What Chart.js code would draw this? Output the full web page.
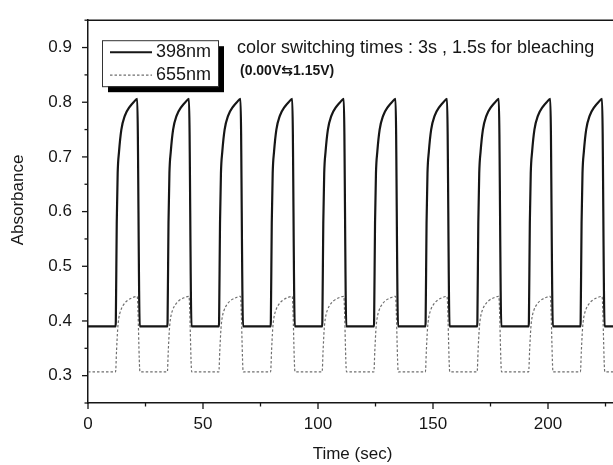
<!DOCTYPE html>
<html>
<head>
<meta charset="utf-8">
<script src="https://cdn.jsdelivr.net/npm/chart.js@4.4.1/dist/chart.umd.min.js"></script>
<style>
  html, body { margin: 0; padding: 0; background: #fff; overflow: hidden; }
  canvas { display: block; }
</style>
</head>
<body>
<canvas id="abs-chart" width="625" height="465"></canvas>
<script>
// 398nm trace, one row per switching cycle
const t398 = [
  0,
  12.0, 12.1, 12.5, 12.9, 13.5, 14.5, 16.0, 18.2, 19.8, 21.4, 22.5,
  34.5, 34.6, 35.0, 35.4, 36.0, 37.0, 38.5, 40.7, 42.3, 43.9, 45.0,
  56.9, 57.0, 57.4, 57.8, 58.4, 59.4, 60.9, 63.1, 64.7, 66.3, 67.4,
  79.4, 79.5, 79.9, 80.3, 80.9, 81.9, 83.4, 85.6, 87.2, 88.8, 89.9,
  101.8, 101.9, 102.3, 102.7, 103.3, 104.3, 105.8, 108.0, 109.6, 111.2, 112.3,
  124.3, 124.4, 124.8, 125.2, 125.8, 126.8, 128.3, 130.5, 132.1, 133.7, 134.8,
  146.7, 146.8, 147.2, 147.6, 148.2, 149.2, 150.7, 152.9, 154.5, 156.1, 157.2,
  169.2, 169.3, 169.7, 170.1, 170.7, 171.7, 173.2, 175.4, 177.0, 178.6, 179.7,
  191.6, 191.7, 192.1, 192.5, 193.1, 194.1, 195.6, 197.8, 199.4, 201.0, 202.1,
  214.1, 214.2, 214.6, 215.0, 215.6, 216.6, 218.1, 220.3, 221.9, 223.5, 224.6,
  232
];
const a398 = [
  0.39,
  0.39, 0.40, 0.58, 0.67, 0.71, 0.75, 0.775, 0.792, 0.800, 0.806, 0.39,
  0.39, 0.40, 0.58, 0.67, 0.71, 0.75, 0.775, 0.792, 0.800, 0.806, 0.39,
  0.39, 0.40, 0.58, 0.67, 0.71, 0.75, 0.775, 0.792, 0.800, 0.806, 0.39,
  0.39, 0.40, 0.58, 0.67, 0.71, 0.75, 0.775, 0.792, 0.800, 0.806, 0.39,
  0.39, 0.40, 0.58, 0.67, 0.71, 0.75, 0.775, 0.792, 0.800, 0.806, 0.39,
  0.39, 0.40, 0.58, 0.67, 0.71, 0.75, 0.775, 0.792, 0.800, 0.806, 0.39,
  0.39, 0.40, 0.58, 0.67, 0.71, 0.75, 0.775, 0.792, 0.800, 0.806, 0.39,
  0.39, 0.40, 0.58, 0.67, 0.71, 0.75, 0.775, 0.792, 0.800, 0.806, 0.39,
  0.39, 0.40, 0.58, 0.67, 0.71, 0.75, 0.775, 0.792, 0.800, 0.806, 0.39,
  0.39, 0.40, 0.58, 0.67, 0.71, 0.75, 0.775, 0.792, 0.800, 0.806, 0.39,
  0.39
];

// 655nm trace
const t655 = [
  0,
  12.0, 12.4, 12.9, 13.4, 14.3, 15.5, 17.0, 19.0, 21.4, 22.6,
  34.5, 34.9, 35.4, 35.9, 36.8, 38.0, 39.5, 41.5, 43.9, 45.1,
  56.9, 57.3, 57.8, 58.3, 59.2, 60.4, 61.9, 63.9, 66.3, 67.5,
  79.4, 79.8, 80.3, 80.8, 81.7, 82.9, 84.4, 86.4, 88.8, 90.0,
  101.8, 102.2, 102.7, 103.2, 104.1, 105.3, 106.8, 108.8, 111.2, 112.4,
  124.3, 124.7, 125.2, 125.7, 126.6, 127.8, 129.3, 131.3, 133.7, 134.9,
  146.7, 147.1, 147.6, 148.1, 149.0, 150.2, 151.7, 153.7, 156.1, 157.3,
  169.2, 169.6, 170.1, 170.6, 171.5, 172.7, 174.2, 176.2, 178.6, 179.8,
  191.6, 192.0, 192.5, 193.0, 193.9, 195.1, 196.6, 198.6, 201.0, 202.2,
  214.1, 214.5, 215.0, 215.5, 216.4, 217.6, 219.1, 221.1, 223.5, 224.7,
  232
];
const a655 = [
  0.307,
  0.307, 0.345, 0.385, 0.405, 0.420, 0.430, 0.437, 0.442, 0.445, 0.307,
  0.307, 0.345, 0.385, 0.405, 0.420, 0.430, 0.437, 0.442, 0.445, 0.307,
  0.307, 0.345, 0.385, 0.405, 0.420, 0.430, 0.437, 0.442, 0.445, 0.307,
  0.307, 0.345, 0.385, 0.405, 0.420, 0.430, 0.437, 0.442, 0.445, 0.307,
  0.307, 0.345, 0.385, 0.405, 0.420, 0.430, 0.437, 0.442, 0.445, 0.307,
  0.307, 0.345, 0.385, 0.405, 0.420, 0.430, 0.437, 0.442, 0.445, 0.307,
  0.307, 0.345, 0.385, 0.405, 0.420, 0.430, 0.437, 0.442, 0.445, 0.307,
  0.307, 0.345, 0.385, 0.405, 0.420, 0.430, 0.437, 0.442, 0.445, 0.307,
  0.307, 0.345, 0.385, 0.405, 0.420, 0.430, 0.437, 0.442, 0.445, 0.307,
  0.307, 0.345, 0.385, 0.405, 0.420, 0.430, 0.437, 0.442, 0.445, 0.307,
  0.307
];

// axis ticks (majors get a label)
const xTicks = [0, 25, 50, 75, 100, 125, 150, 175, 200, 225];
const xLabels = ['0', '', '50', '', '100', '', '150', '', '200', ''];
const yTicks = [0.25, 0.3, 0.35, 0.4, 0.45, 0.5, 0.55, 0.6, 0.65, 0.7, 0.75, 0.8, 0.85, 0.9, 0.95];
const yLabels = ['', '0.3', '', '0.4', '', '0.5', '', '0.6', '', '0.7', '', '0.8', '', '0.9', ''];

const seriesNames = ['398nm', '655nm'];
const yTitle = 'Absorbance';
const noteText = 'color switching times : 3s , 1.5s for bleaching';
const voltText = '(0.00V\u21C61.15V)';

const FONT = '"Liberation Sans", Arial, "DejaVu Sans", sans-serif';
const INK = '#161616';
const GREY = '#6f6f6f';

// frame, tick marks, legend box, y title and the notes
const decor = {
  id: 'decor',
  afterDraw(chart) {
    const ctx = chart.ctx;
    const area = chart.chartArea;
    const xs = chart.scales.x, ys = chart.scales.y;
    ctx.save();

    // top + right frame
    ctx.strokeStyle = INK;
    ctx.lineWidth = 1.5;
    ctx.beginPath();
    ctx.moveTo(area.left, area.top);
    ctx.lineTo(area.right, area.top);
    ctx.lineTo(area.right, area.bottom);
    ctx.stroke();

    // tick marks, outward
    ctx.lineWidth = 1.3;
    xTicks.forEach((v, i) => {
      const px = xs.getPixelForValue(v);
      const len = xLabels[i] ? 6 : 3.5;
      ctx.beginPath();
      ctx.moveTo(px, area.bottom);
      ctx.lineTo(px, area.bottom + len);
      ctx.stroke();
    });
    yTicks.forEach((v, i) => {
      const py = ys.getPixelForValue(v);
      const len = yLabels[i] ? 6 : 3.5;
      ctx.beginPath();
      ctx.moveTo(area.left - len, py);
      ctx.lineTo(area.left, py);
      ctx.stroke();
    });

    // y title
    ctx.fillStyle = INK;
    ctx.font = '17px ' + FONT;
    ctx.textAlign = 'center';
    ctx.textBaseline = 'middle';
    ctx.translate(18, 200);
    ctx.rotate(-Math.PI / 2);
    ctx.fillText(yTitle, 0, 0);
    ctx.setTransform(1, 0, 0, 1, 0, 0);

    // legend with drop shadow
    const bx = area.left + 14, by = area.top + 20, bw = 116, bh = 46;
    ctx.fillStyle = '#000';
    ctx.fillRect(bx + 6, by + 6, bw, bh);
    ctx.fillStyle = '#fff';
    ctx.fillRect(bx, by, bw, bh);
    ctx.strokeStyle = '#333';
    ctx.lineWidth = 1;
    ctx.strokeRect(bx + 0.5, by + 0.5, bw, bh);

    ctx.strokeStyle = INK;
    ctx.lineWidth = 2;
    ctx.beginPath();
    ctx.moveTo(bx + 8, by + 12);
    ctx.lineTo(bx + 50, by + 12);
    ctx.stroke();

    ctx.strokeStyle = GREY;
    ctx.lineWidth = 1.2;
    ctx.setLineDash([2.5, 2]);
    ctx.beginPath();
    ctx.moveTo(bx + 8, by + 35);
    ctx.lineTo(bx + 50, by + 35);
    ctx.stroke();
    ctx.setLineDash([]);

    ctx.fillStyle = INK;
    ctx.font = '18px ' + FONT;
    ctx.textAlign = 'left';
    ctx.textBaseline = 'middle';
    ctx.fillText(seriesNames[0], bx + 54, by + 12);
    ctx.fillText(seriesNames[1], bx + 54, by + 35);

    // notes
    ctx.fillText(noteText, area.left + 149, area.top + 27.5);
    ctx.font = 'bold 14px ' + FONT;
    ctx.fillText(voltText, area.left + 152, area.top + 51);

    ctx.restore();
  }
};

const ctx = document.getElementById('abs-chart');

new Chart(ctx, {
  type: 'line',
  data: {
    datasets: [
      {
        label: seriesNames[0],
        data: t398.map((t, i) => ({ x: t, y: a398[i] })),
        borderColor: INK,
        borderWidth: 2.2,
        pointRadius: 0,
        cubicInterpolationMode: 'monotone',
        fill: false
      },
      {
        label: seriesNames[1],
        data: t655.map((t, i) => ({ x: t, y: a655[i] })),
        borderColor: GREY,
        borderWidth: 1.2,
        borderDash: [2.5, 2],
        pointRadius: 0,
        cubicInterpolationMode: 'monotone',
        fill: false
      }
    ]
  },
  options: {
    responsive: false,
    maintainAspectRatio: false,
    devicePixelRatio: 1,
    animation: false,
    layout: { padding: { top: 12, right: 8, left: 0, bottom: 0 } },
    plugins: {
      legend: { display: false },
      tooltip: { enabled: false }
    },
    scales: {
      x: {
        type: 'linear',
        min: 0,
        max: 230,
        afterFit: s => { s.height = 62; },
        afterBuildTicks: s => { s.ticks = xTicks.map(v => ({ value: v })); },
        grid: { display: false, drawTicks: true, tickLength: 6 },
        border: { display: true, color: INK, width: 1.5 },
        ticks: {
          autoSkip: false,
          maxRotation: 0,
          padding: 5,
          color: INK,
          font: { family: FONT, size: 17 },
          callback: (v, i) => xLabels[i]
        },
        title: {
          display: true,
          text: 'Time (sec)',
          color: INK,
          font: { family: FONT, size: 17 },
          padding: { top: 0, bottom: 0 }
        }
      },
      y: {
        type: 'linear',
        min: 0.25,
        max: 0.95,
        afterFit: s => { s.width = 88; },
        afterBuildTicks: s => { s.ticks = yTicks.map(v => ({ value: v })); },
        grid: { display: false, drawTicks: true, tickLength: 6 },
        border: { display: true, color: INK, width: 1.5 },
        ticks: {
          autoSkip: false,
          padding: 10,
          color: INK,
          font: { family: FONT, size: 17 },
          callback: (v, i) => yLabels[i]
        }
      }
    }
  },
  plugins: [decor]
});
</script>
</body>
</html>
